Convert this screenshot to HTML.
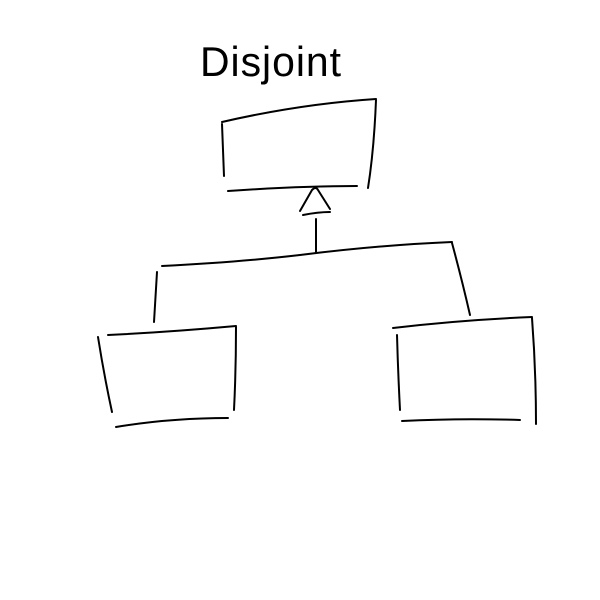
<!DOCTYPE html>
<html><head><meta charset="utf-8"><style>
html,body{margin:0;padding:0;background:#fff;width:600px;height:600px;overflow:hidden}
</style></head><body>
<svg width="600" height="600" viewBox="0 0 600 600" xmlns="http://www.w3.org/2000/svg">
<rect width="600" height="600" fill="#fff"/>
<text x="200" y="76" font-family="Liberation Sans, sans-serif" font-size="42" font-weight="normal" fill="#000" letter-spacing="1" textLength="142" lengthAdjust="spacingAndGlyphs">Disjoint</text>
<g fill="none" stroke="#000" stroke-width="2" stroke-linecap="round" stroke-linejoin="round">
<!-- top box -->
<path d="M222,122 Q300,104 376,99"/>
<path d="M222,124 L224,176"/>
<path d="M376,100 Q374,150 368,188"/>
<path d="M228,191 Q300,186 357,186"/>
<!-- arrow -->
<path d="M300,211 L312,190 Q316,186 318,190 L330,209"/>
<path d="M303,215 Q318,212 330,212"/>
<path d="M316,219 L316,252"/>
<!-- connector -->
<path d="M162,266 Q240,262 300,255 Q380,245 452,242"/>
<path d="M452,243 Q462,280 470,315"/>
<path d="M157,272 L154,322"/>
<!-- left box -->
<path d="M108,335 Q170,332 236,326"/>
<path d="M98,337 Q104,375 112,412"/>
<path d="M236,327 Q236,370 234,410"/>
<path d="M116,427 Q170,418 228,418"/>
<!-- right box -->
<path d="M393,328 Q460,320 532,317"/>
<path d="M397,335 Q398,372 400,410"/>
<path d="M532,318 Q536,370 536,424"/>
<path d="M402,421 Q460,418 520,420"/>
</g>
</svg>
</body></html>
